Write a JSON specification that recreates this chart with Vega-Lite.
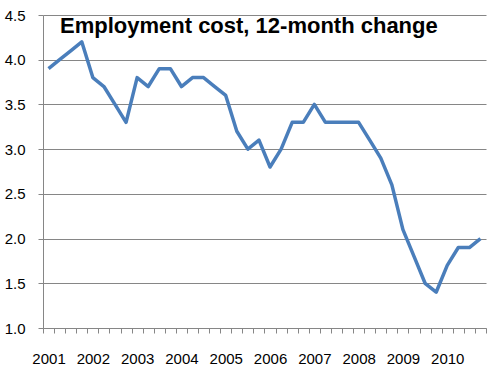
{
  "$schema": "https://vega.github.io/schema/vega-lite/v6.json",
  "width": 443,
  "height": 313,
  "autosize": {"type": "none"},
  "padding": {"left": 43, "top": 15, "right": 14, "bottom": 49},
  "background": "white",
  "title": {
    "text": "Employment cost, 12-month change",
    "anchor": "start",
    "frame": "group",
    "orient": "top",
    "offset": 0,
    "baseline": "alphabetic",
    "dx": 17,
    "dy": 47,
    "font": "Liberation Sans",
    "fontSize": 22,
    "fontWeight": "bold",
    "color": "#000000"
  },
  "data": {
    "values": [
      {"period": "2001 Q1", "value": 3.9},
      {"period": "2001 Q2", "value": 4.0},
      {"period": "2001 Q3", "value": 4.1},
      {"period": "2001 Q4", "value": 4.2},
      {"period": "2002 Q1", "value": 3.8},
      {"period": "2002 Q2", "value": 3.7},
      {"period": "2002 Q3", "value": 3.5},
      {"period": "2002 Q4", "value": 3.3},
      {"period": "2003 Q1", "value": 3.8},
      {"period": "2003 Q2", "value": 3.7},
      {"period": "2003 Q3", "value": 3.9},
      {"period": "2003 Q4", "value": 3.9},
      {"period": "2004 Q1", "value": 3.7},
      {"period": "2004 Q2", "value": 3.8},
      {"period": "2004 Q3", "value": 3.8},
      {"period": "2004 Q4", "value": 3.7},
      {"period": "2005 Q1", "value": 3.6},
      {"period": "2005 Q2", "value": 3.2},
      {"period": "2005 Q3", "value": 3.0},
      {"period": "2005 Q4", "value": 3.1},
      {"period": "2006 Q1", "value": 2.8},
      {"period": "2006 Q2", "value": 3.0},
      {"period": "2006 Q3", "value": 3.3},
      {"period": "2006 Q4", "value": 3.3},
      {"period": "2007 Q1", "value": 3.5},
      {"period": "2007 Q2", "value": 3.3},
      {"period": "2007 Q3", "value": 3.3},
      {"period": "2007 Q4", "value": 3.3},
      {"period": "2008 Q1", "value": 3.3},
      {"period": "2008 Q2", "value": 3.1},
      {"period": "2008 Q3", "value": 2.9},
      {"period": "2008 Q4", "value": 2.6},
      {"period": "2009 Q1", "value": 2.1},
      {"period": "2009 Q2", "value": 1.8},
      {"period": "2009 Q3", "value": 1.5},
      {"period": "2009 Q4", "value": 1.4},
      {"period": "2010 Q1", "value": 1.7},
      {"period": "2010 Q2", "value": 1.9},
      {"period": "2010 Q3", "value": 1.9},
      {"period": "2010 Q4", "value": 2.0}
    ]
  },
  "mark": {"type": "line", "color": "#4a7ebb", "strokeWidth": 3.5, "strokeJoin": "round"},
  "encoding": {
    "x": {
      "field": "period",
      "type": "ordinal",
      "sort": null,
      "scale": {"type": "band", "paddingInner": 0, "paddingOuter": 0},
      "axis": {
        "title": null,
        "tickBand": "extent",
        "labelExpr": "indexof(datum.label, 'Q1') >= 0 ? slice(datum.label, 0, 4) : ''",
        "labelAngle": 0,
        "labelOverlap": false,
        "labelFont": "Liberation Sans",
        "labelFontSize": 15,
        "labelColor": "#000000",
        "labelPadding": 18,
        "tickSize": 5,
        "tickColor": "#868686",
        "domainColor": "#868686",
        "grid": false
      }
    },
    "y": {
      "field": "value",
      "type": "quantitative",
      "scale": {"domain": [1.0, 4.5], "nice": false, "zero": false},
      "axis": {
        "title": null,
        "values": [1.0, 1.5, 2.0, 2.5, 3.0, 3.5, 4.0, 4.5],
        "format": ".1f",
        "labelFont": "Liberation Sans",
        "labelFontSize": 15,
        "labelColor": "#000000",
        "labelPadding": 13,
        "tickSize": 5,
        "tickColor": "#868686",
        "domainColor": "#868686",
        "grid": true,
        "gridColor": "#868686",
        "gridWidth": 1
      }
    }
  },
  "config": {"view": {"stroke": null}}
}
